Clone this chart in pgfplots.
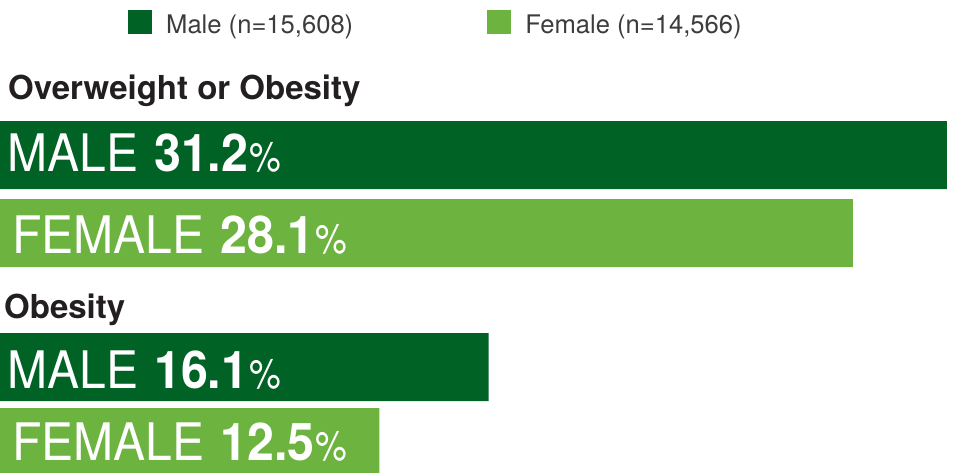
\documentclass[border=0pt]{standalone}
\usepackage{fontspec}
\setmainfont{TeX Gyre Heros}
\newfontfamily\barfont[FakeStretch=0.93]{TeX Gyre Heros}
\newfontfamily\numfont[FakeStretch=0.93]{TeX Gyre Heros}
\newfontfamily\pctfont[FakeStretch=0.87]{TeX Gyre Heros}
\usepackage{pgfplots}
\pgfplotsset{compat=1.18}
\definecolor{dkgreen}{HTML}{006225}
\definecolor{ltgreen}{HTML}{6DB33F}
\definecolor{titlegray}{HTML}{231F20}
\definecolor{leggray}{HTML}{3C3C3C}
\newcommand\barlab[2]{{\barfont\fontsize{51.7}{60}\selectfont #1\hspace{16pt}{\numfont\bfseries\fontsize{52}{60}\selectfont #2}\hspace{1pt}{\pctfont\fontsize{41}{44}\selectfont\%}}}
\begin{document}
\begin{tikzpicture}[x=1pt,y=1pt]
\begin{axis}[
  at={(0,0)}, anchor=north west,
  scale only axis, width=953pt, height=473pt,
  xmin=0, xmax=31.4, ymin=0, ymax=473, y dir=reverse,
  hide axis,
  xbar, bar width=68pt, bar shift=0pt,
  legend columns=2,
  legend style={at={(0.1343,0.979)}, anchor=north west, draw=none, fill=none,
    inner sep=0pt, text=leggray, font=\fontsize{25.6}{30}\selectfont,
    nodes={inner sep=0pt},
    /tikz/every odd column/.append style={column sep=14pt},
    /tikz/every even column/.append style={column sep=134pt}},
]
\addplot[fill=dkgreen, draw=none,
  legend image code/.code={\fill[dkgreen] (0pt,-9pt) rectangle (24pt,15pt);}]
  coordinates {(31.2,155) (16.1,367)};
\addplot[fill=ltgreen, draw=none,
  legend image code/.code={\fill[ltgreen] (0pt,-9pt) rectangle (24pt,15pt);}]
  coordinates {(28.1,233) (12.5,442)};
\legend{{Male (n=15,608)}, {Female (n=14,566)}}
\end{axis}
\node[anchor=base west, inner sep=0pt, text=titlegray, font=\bfseries\fontsize{33}{38}\selectfont] at (8,-100) {Overweight or Obesity};
\node[anchor=base west, inner sep=0pt, text=titlegray, font=\bfseries\fontsize{33}{38}\selectfont] at (4,-318) {Obesity};
\node[anchor=base west, inner sep=0pt, text=white] at (7,-172) {\barlab{MALE}{31.2}};
\node[anchor=base west, inner sep=0pt, text=white] at (12,-254) {\barlab{FEMALE}{28.1}};
\node[anchor=base west, inner sep=0pt, text=white] at (7,-388) {\barlab{MALE}{16.1}};
\node[anchor=base west, inner sep=0pt, text=white] at (12,-460) {\barlab{FEMALE}{12.5}};
\pgfresetboundingbox
\useasboundingbox (0,0) rectangle (953,-473);
\end{tikzpicture}
\end{document}
